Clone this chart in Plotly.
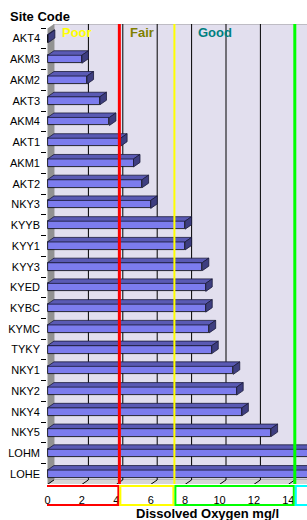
import plotly.graph_objects as go

# ---------------- data ----------------
sites = ["AKT4", "AKM3", "AKM2", "AKT3", "AKM4", "AKT1", "AKM1", "AKT2", "NKY3",
         "KYYB", "KYY1", "KYY3", "KYED", "KYBC", "KYMC", "TYKY", "NKY1", "NKY2",
         "NKY4", "NKY5", "LOHM", "LOHE"]
do_values = [0.05, 2.0, 2.3, 3.05, 3.6, 4.25, 5.0, 5.5, 6.0,
             8.0, 8.0, 9.0, 9.2, 9.2, 9.4, 9.55, 10.8, 11.0,
             11.3, 13.0, 16.0, 16.0]
x_ticks = [0, 2, 4, 6, 8, 10, 12, 14]
thresholds = [3.8, 7.0, 14.0]
band_names = ["Poor", "Fair", "Good"]
band_text_colors = ["#FFFF00", "#808000", "#008080"]
band_line_colors = ["#FF0000", "#FFFF00", "#00FF00"]
extra_box_color = "#00FFFF"

# ---------------- geometry / style ----------------
W, H = 307, 520
ML, MR, MT, MB = 47, 0, 24, 36
PX = 17.2                      # pixels per unit on x
X0 = 47.5                      # pixel of front zero
XMIN = (ML - X0) / PX
XMAX = (W - MR - X0) / PX
n = len(sites)
CAT_PX = 20.74
YTOP = -0.70
YBOT = YTOP + (H - MT - MB) / CAT_PX
DX = 6.5 / PX                  # 3D depth in x units
DY = 4.5 / CAT_PX              # 3D depth in category units
HALF = 0.193                   # half height of bar front face

FRONT = "#7C7CEE"
TOP = "#5A5AB4"
SIDE = "#3E3E80"
WALL = "#E2DFEE"
LEFTWALL = "#929292"
FLOOR = "#D6D6D6"
FONT = "Liberation Sans, Arial, sans-serif"

idx = list(range(n))

# top faces & side faces of 3D bars, built from the data
top_x, top_y, side_x, side_y = [], [], [], []
for i, v in zip(idx, do_values):
    y0, y1 = i - HALF, i + HALF
    top_x += [0, v, v + DX, DX, 0, None]
    top_y += [y0, y0, y0 - DY, y0 - DY, y0, None]
    side_x += [v, v, v + DX, v + DX, v, None]
    side_y += [y0, y1, y1 - DY, y0 - DY, y0, None]

fig = go.Figure()
fig.add_trace(go.Bar(x=do_values, y=idx, orientation="h", width=2 * HALF,
                     marker=dict(color=FRONT, line=dict(color="#000000", width=0.8)),
                     hoverinfo="skip", showlegend=False))
fig.add_trace(go.Scatter(x=top_x, y=top_y, mode="lines", fill="toself",
                         fillcolor=TOP, line=dict(color="#1a1a3a", width=0.8),
                         hoverinfo="skip", showlegend=False))
fig.add_trace(go.Scatter(x=side_x, y=side_y, mode="lines", fill="toself",
                         fillcolor=SIDE, line=dict(color="#1a1a3a", width=0.8),
                         hoverinfo="skip", showlegend=False))

shapes = []
yb_back = YBOT - DY
yfront_floor = n - 0.5
# back wall
shapes.append(dict(type="rect", xref="x", yref="y", x0=DX, x1=XMAX + 1, y0=YTOP, y1=yfront_floor - DY,
                   fillcolor=WALL, line=dict(color="#999999", width=1), layer="below"))
# floor
shapes.append(dict(type="path", xref="x", yref="y",
                   path=f"M0,{yfront_floor} L{XMAX+1},{yfront_floor} L{XMAX+1+DX},{yfront_floor-DY} L{DX},{yfront_floor-DY} Z",
                   fillcolor=FLOOR, line=dict(width=0), layer="below"))
# left wall
shapes.append(dict(type="path", xref="x", yref="y",
                   path=f"M0,{yfront_floor} L0,{YTOP+DY} L{DX},{YTOP} L{DX},{yfront_floor-DY} Z",
                   fillcolor=LEFTWALL, line=dict(width=0), layer="below"))
# grid lines on back wall
for t in x_ticks[1:]:
    shapes.append(dict(type="line", xref="x", yref="y", x0=t + DX, x1=t + DX, y0=YTOP,
                       y1=yfront_floor - DY, line=dict(color="#000000", width=1), layer="below"))
# floor ticks
for t in x_ticks:
    shapes.append(dict(type="line", xref="x", yref="y", x0=t, x1=t + DX, y0=yfront_floor,
                       y1=yfront_floor - DY, line=dict(color="#000000", width=1), layer="below"))
# threshold lines
widths = [3, 2, 3]
for th, c, w in zip(thresholds, band_line_colors, widths):
    shapes.append(dict(type="line", xref="x", yref="paper", x0=th + DX, x1=th + DX, y0=0, y1=1,
                       line=dict(color=c, width=w), layer="above"))
# boxes around tick labels
gap = 1.0 / PX
edges = [-0.2] + [th + DX for th in thresholds] + [XMAX + 1]
box_colors = band_line_colors + [extra_box_color]
by0 = (MT + (H - MT - MB) - 505) / (H - MT - MB)
by1 = (MT + (H - MT - MB) - 486) / (H - MT - MB)
for k, c in enumerate(box_colors):
    x0 = edges[k] + (gap if k > 0 else 0)
    x1 = edges[k + 1] - gap
    shapes.append(dict(type="rect", xref="x", yref="paper", x0=x0, x1=x1, y0=by0, y1=by1,
                       line=dict(color=c, width=2), fillcolor="rgba(0,0,0,0)", layer="above"))

annotations = []
band_label_x = [1.69, 5.49, 9.74]
for name, c, bx in zip(band_names, band_text_colors, band_label_x):
    annotations.append(dict(text=f"<b>{name}</b>", x=bx, y=YTOP + 0.4, xref="x", yref="y",
                            showarrow=False, font=dict(family=FONT, size=13, color=c),
                            xanchor="center", yanchor="middle"))
annotations.append(dict(text="<b>Site Code</b>", xref="paper", yref="paper",
                        x=(8 - ML) / (W - ML - MR), y=(H - MB - 16.5) / (H - MT - MB) ,
                        showarrow=False, xanchor="left", yanchor="middle",
                        font=dict(family=FONT, size=13, color="#000000")))
annotations.append(dict(text="<b>Dissolved Oxygen mg/l</b>", xref="paper", yref="paper",
                        x=(207 - ML) / (W - ML - MR), y=(H - MB - 513) / (H - MT - MB),
                        showarrow=False, xanchor="center", yanchor="middle",
                        font=dict(family=FONT, size=13, color="#000000")))

fig.update_layout(
    width=W, height=H, margin=dict(l=ML, r=MR, t=MT, b=MB),
    paper_bgcolor="#FFFFFF", plot_bgcolor="#FFFFFF",
    bargap=0, showlegend=False,
    shapes=shapes, annotations=annotations,
    xaxis=dict(range=[XMIN, XMAX], tickmode="array", tickvals=x_ticks,
               ticktext=[str(t) for t in x_ticks], ticks="", showgrid=False,
               zeroline=False, showline=False, fixedrange=True,
               tickfont=dict(family=FONT, size=11, color="#000000"),
               ticklabelstandoff=8),
    yaxis=dict(range=[YBOT, YTOP], tickmode="array", tickvals=idx, ticktext=sites,
               ticks="", showgrid=False, zeroline=False, showline=False, fixedrange=True,
               tickfont=dict(family=FONT, size=11, color="#000000"),
               ticklabelstandoff=6,
               minor=dict(tickmode="linear", tick0=-0.5, dtick=1, ticks="outside",
                          ticklen=5, tickcolor="#000000", tickwidth=1, showgrid=False)),
)

fig.write_html("out.html")
